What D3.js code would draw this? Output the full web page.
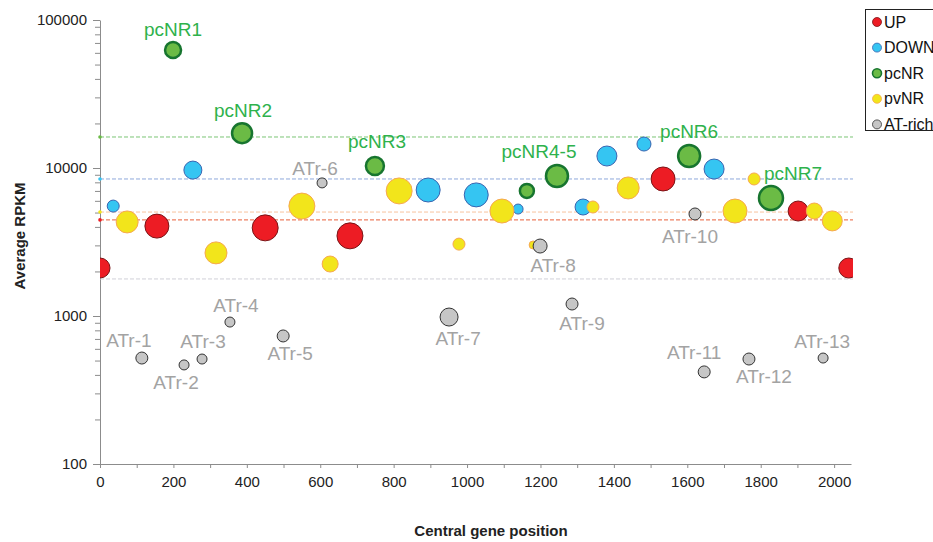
<!DOCTYPE html>
<html>
<head>
<meta charset="utf-8">
<script src="https://cdn.jsdelivr.net/npm/d3@7"></script>
<style>
  body { margin: 0; background: #fff; }
  text { font-family: "Liberation Sans", Arial, sans-serif; }
</style>
</head>
<body>
<div id="chart"></div>
<script>
// data: [central gene position, average RPKM, bubble size]
var upPos = [0, 155, 450, 681, 1534, 1902, 2040];
var upRpkm = [2110, 4050, 3940, 3480, 8430, 5120, 2110];
var upSize = [10, 12, 13, 13, 12, 10, 10];

var downPos = [36, 253, 894, 1025, 1139, 1316, 1381, 1482, 1673];
var downRpkm = [5530, 9680, 7100, 6580, 5280, 5450, 12050, 14520, 9840];
var downSize = [6, 9, 12, 12, 5, 8, 10, 7, 10];

var pcPos = [199, 387, 749, 1163, 1245, 1605, 1828];
var pcRpkm = [62700, 17200, 10300, 7000, 8830, 12050, 6270];
var pcSize = [8, 10, 9, 7, 11, 11, 12];
var pcLabels = ["pcNR1", "pcNR2", "pcNR3", "", "pcNR4-5", "pcNR6", "pcNR7"];

var pvPos = [74, 316, 550, 627, 815, 978, 1095, 1180, 1343, 1439, 1782, 1730, 1946, 1995];
var pvRpkm = [4320, 2670, 5530, 2245, 7000, 3060, 5120, 3020, 5450, 7330, 8430, 5120, 5120, 4390];
var pvSize = [11, 11, 13, 8, 13, 6, 12, 4, 6, 11, 6, 12, 8, 10];

var atPos = [114, 229, 278, 354, 499, 605, 951, 1199, 1286, 1621, 1646, 1768, 1970];
var atRpkm = [520, 467, 512, 910, 733, 7930, 984, 2970, 1205, 4890, 419, 512, 520];
var atSize = [6, 5, 5, 5, 6, 5, 9, 7, 6, 6, 6, 6, 5];
var atLabels = ["ATr-1", "ATr-2", "ATr-3", "ATr-4", "ATr-5", "ATr-6", "ATr-7",
                "ATr-8", "ATr-9", "ATr-10", "ATr-11", "ATr-12", "ATr-13"];

// threshold lines (dashed)
var thresholdNames = ["pcNR", "DOWN", "pvNR", "UP", "AT-rich"];
var thresholdValues = [16200, 8430, 5040, 4460, 1780];

var legendNames = ["UP", "DOWN", "pcNR", "pvNR", "AT-rich"];
var xTicks = [0, 200, 400, 600, 800, 1000, 1200, 1400, 1600, 1800, 2000];
var yTicks = [100, 1000, 10000, 100000];

var style = {
    "UP":      {fill: "#ed1c24", stroke: "#7a1416", sw: 1, line: "#e8603a"},
    "DOWN":    {fill: "#35c5f2", stroke: "#3a64b0", sw: 1, line: "#8ea9dc"},
    "pcNR":    {fill: "#6bbb45", stroke: "#17752f", sw: 2.5, line: "#7cc576"},
    "pvNR":    {fill: "#f2e51b", stroke: "#f7a850", sw: 1, line: "#f8c49e"},
    "AT-rich": {fill: "#c6c6c6", stroke: "#333333", sw: 1, line: "#d0d0d8"}
};

var W = 933, H = 542;
var x0 = 100, x1 = 851, yTop = 20, yBot = 464;

var svg = d3.select("#chart").append("svg")
    .attr("width", W)
    .attr("height", H);

var x = d3.scaleLinear().domain([0, 2046]).range([x0, x1]);
var y = d3.scaleLog().domain([100, 100000]).range([yBot, yTop]);
var r = d3.scaleLinear().domain([0, 13]).range([0, 13]);

svg.append("clipPath").attr("id", "plotClip")
    .append("rect")
    .attr("x", x0).attr("y", 0)
    .attr("width", x1 - x0 + 2).attr("height", yBot);

// axes
var yAxis = d3.axisLeft(y)
    .tickValues(d3.range(2, 5).flatMap(e => d3.range(1, 10).map(m => m * Math.pow(10, e))).concat([100000]))
    .tickFormat(d => yTicks.indexOf(d) >= 0 ? d : "")
    .tickSizeOuter(0);

var yAxisGroup = svg.append("g")
    .attr("transform", "translate(" + x0 + ",0)")
    .call(yAxis);
yAxisGroup.selectAll(".tick line")
    .attr("x2", d => yTicks.indexOf(d) >= 0 ? -7 : -5);
yAxisGroup.selectAll(".tick text")
    .attr("x", -13)
    .style("font-size", "15px")
    .attr("fill", "#222");

var xAxis = d3.axisBottom(x)
    .tickValues(d3.range(0, 2001, 100))
    .tickFormat(d => xTicks.indexOf(d) >= 0 ? d : "")
    .tickSize(4)
    .tickSizeOuter(0);

var xAxisGroup = svg.append("g")
    .attr("transform", "translate(0," + yBot + ")")
    .call(xAxis);
xAxisGroup.selectAll(".tick text")
    .attr("y", 12)
    .style("font-size", "15px")
    .attr("fill", "#222");

svg.selectAll(".domain").attr("stroke", "#8c8c8c");
svg.selectAll(".tick line").attr("stroke", "#8c8c8c");

// threshold lines
var thresholds = thresholdNames.map((n, i) => ({name: n, value: thresholdValues[i]}));
svg.selectAll(".thr")
    .data(thresholds)
    .enter().append("line")
    .attr("class", "thr")
    .attr("x1", x0).attr("x2", x1 + 2)
    .attr("y1", d => y(d.value)).attr("y2", d => y(d.value))
    .attr("stroke", d => style[d.name].line)
    .attr("stroke-width", 1)
    .attr("stroke-dasharray", "4,2");
svg.selectAll(".thrDot")
    .data(thresholds.filter(d => d.name != "AT-rich"))
    .enter().append("circle")
    .attr("cx", x0).attr("cy", d => y(d.value)).attr("r", 1.8)
    .attr("fill", d => style[d.name].fill);

function series(name, pos, rpkm, size) {
    return pos.map((p, i) => ({name: name, pos: p, rpkm: rpkm[i], size: size[i], i: i}));
}

var points = [].concat(
    series("UP", upPos, upRpkm, upSize),
    series("DOWN", downPos, downRpkm, downSize),
    series("pcNR", pcPos, pcRpkm, pcSize),
    series("AT-rich", atPos, atRpkm, atSize),
    series("pvNR", pvPos, pvRpkm, pvSize)
);

// draw order roughly as in the figure
var order = {"UP": 0, "DOWN": 1, "pvNR": 2, "pcNR": 3, "AT-rich": 4};
points.sort((a, b) => order[a.name] - order[b.name]);

svg.append("g")
    .attr("clip-path", "url(#plotClip)")
    .selectAll("circle")
    .data(points)
    .enter().append("circle")
    .attr("cx", d => x(d.pos))
    .attr("cy", d => y(d.rpkm))
    .attr("r", d => r(d.size))
    .attr("fill", d => style[d.name].fill)
    .attr("stroke", d => style[d.name].stroke)
    .attr("stroke-width", d => style[d.name].sw);

// point labels, offsets in pixels from the point
var pcOffsets = [[0, -14], [1, -16], [2, -18], [0, 0], [-18, -18], [0, -18], [22, -18]];
var atOffsets = [[-13, -11], [-8, 24], [1, -11], [6, -10], [7, 24], [-7, -8], [9, 28],
                 [13, 26], [10, 26], [-5, 29], [-10, -13], [15, 24], [-1, -10]];

svg.selectAll(".pcLabel")
    .data(pcLabels.map((t, i) => ({t: t, pos: pcPos[i], rpkm: pcRpkm[i], off: pcOffsets[i]})).filter(d => d.t))
    .enter().append("text")
    .attr("x", d => x(d.pos) + d.off[0])
    .attr("y", d => y(d.rpkm) + d.off[1])
    .attr("text-anchor", "middle")
    .style("font-size", "19px")
    .attr("fill", "#2eb24c")
    .text(d => d.t);

svg.selectAll(".atLabel")
    .data(atLabels.map((t, i) => ({t: t, pos: atPos[i], rpkm: atRpkm[i], off: atOffsets[i]})))
    .enter().append("text")
    .attr("x", d => x(d.pos) + d.off[0])
    .attr("y", d => y(d.rpkm) + d.off[1])
    .attr("text-anchor", "middle")
    .style("font-size", "19px")
    .attr("fill", "#a3a3a3")
    .text(d => d.t);

// axis titles
svg.append("text")
    .attr("transform", "translate(25,236) rotate(-90)")
    .attr("text-anchor", "middle")
    .style("font-size", "15px")
    .style("font-weight", "bold")
    .attr("fill", "#222")
    .text("Average RPKM");

svg.append("text")
    .attr("x", 491)
    .attr("y", 536)
    .attr("text-anchor", "middle")
    .style("font-size", "15px")
    .style("font-weight", "bold")
    .attr("fill", "#222")
    .text("Central gene position");

// legend (runs off the right edge, as in the figure)
var legend = svg.append("g");
legend.append("rect")
    .attr("x", 865.5).attr("y", 9.5)
    .attr("width", 120).attr("height", 121)
    .attr("fill", "#fff")
    .attr("stroke", "#222");

var items = legend.selectAll(".item")
    .data(legendNames)
    .enter().append("g")
    .attr("transform", (d, i) => "translate(0," + (22 + i * 25.6) + ")");
items.append("circle")
    .attr("cx", 877).attr("cy", 0).attr("r", 4.5)
    .attr("fill", d => style[d].fill)
    .attr("stroke", d => style[d].stroke)
    .attr("stroke-width", d => d == "pcNR" ? 1.6 : 0.8);
items.append("text")
    .attr("x", 884).attr("y", 5.5)
    .style("font-size", "16px")
    .attr("fill", "#111")
    .text(d => d);
</script>
</body>
</html>
